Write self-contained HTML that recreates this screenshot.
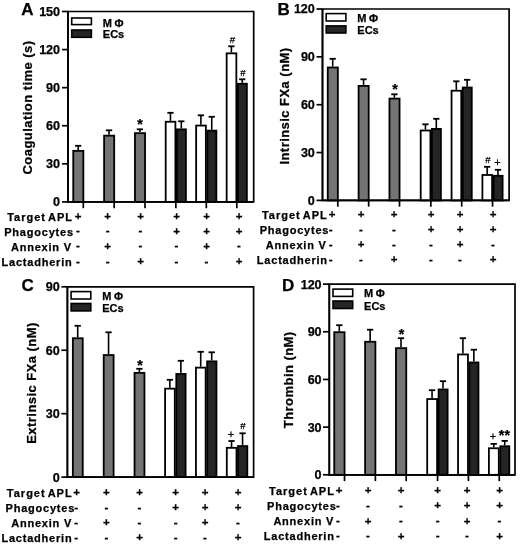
<!DOCTYPE html>
<html><head><meta charset="utf-8"><title>Figure</title>
<style>
html,body{margin:0;padding:0;background:#fff}
svg{display:block;filter:blur(.4px)}
text{font-family:"Liberation Sans", sans-serif;font-weight:bold;fill:#000;stroke:#000;stroke-width:.25px}
.tk{font-size:12.6px;text-anchor:end;letter-spacing:-.1px}
.an{font-size:9.6px;text-anchor:middle;font-weight:normal}
.ap{font-size:11px;text-anchor:middle;font-weight:normal}
.st{font-size:14.3px;text-anchor:middle}
.lg{font-size:11px}
.pl{font-size:17px}
.yl{font-size:13px;letter-spacing:.45px;text-anchor:middle}
.rl{font-size:11px;letter-spacing:.78px;text-anchor:end}
.r1{letter-spacing:1px;word-spacing:-1.6px}
.sy{font-size:11.5px;text-anchor:middle}
</style></head>
<body>
<svg width="520" height="545" viewBox="0 0 520 545">
<rect width="520" height="545" fill="#fff"/>
<path d="M68 11.5H253.7V201.9H68Z" fill="none" stroke="#000" stroke-width="1.7"/>
<path d="M62 201.90H68" stroke="#000" stroke-width="1.7"/>
<text x="59.90" y="206.30" class="tk">0</text>
<path d="M62 163.82H68" stroke="#000" stroke-width="1.7"/>
<text x="59.90" y="168.22" class="tk">30</text>
<path d="M62 125.74H68" stroke="#000" stroke-width="1.7"/>
<text x="59.90" y="130.14" class="tk">60</text>
<path d="M62 87.66H68" stroke="#000" stroke-width="1.7"/>
<text x="59.90" y="92.06" class="tk">90</text>
<path d="M62 49.58H68" stroke="#000" stroke-width="1.7"/>
<text x="59.90" y="53.98" class="tk">120</text>
<path d="M62 11.50H68" stroke="#000" stroke-width="1.7"/>
<text x="59.90" y="15.90" class="tk">150</text>
<path d="M78.20 150.00V145.80" stroke="#000" stroke-width="1.6" fill="none"/>
<path d="M75.05 145.80H81.35" stroke="#000" stroke-width="1.8" fill="none"/>
<rect x="73.25" y="150.85" width="10.10" height="51.05" fill="#747474" stroke="#000" stroke-width="1.8"/>
<path d="M109.05 134.80V130.30" stroke="#000" stroke-width="1.6" fill="none"/>
<path d="M105.90 130.30H112.20" stroke="#000" stroke-width="1.8" fill="none"/>
<rect x="104.10" y="135.65" width="10.10" height="66.25" fill="#747474" stroke="#000" stroke-width="1.8"/>
<path d="M139.90 132.30V129.30" stroke="#000" stroke-width="1.6" fill="none"/>
<path d="M136.75 129.30H143.05" stroke="#000" stroke-width="1.8" fill="none"/>
<rect x="134.95" y="133.15" width="10.10" height="68.75" fill="#747474" stroke="#000" stroke-width="1.8"/>
<path d="M170.45 120.90V112.80" stroke="#000" stroke-width="1.6" fill="none"/>
<path d="M167.30 112.80H173.60" stroke="#000" stroke-width="1.8" fill="none"/>
<rect x="165.70" y="121.75" width="9.70" height="80.15" fill="#fff" stroke="#000" stroke-width="1.8"/>
<path d="M181.30 128.50V121.30" stroke="#000" stroke-width="1.6" fill="none"/>
<path d="M178.15 121.30H184.45" stroke="#000" stroke-width="1.8" fill="none"/>
<rect x="176.90" y="129.35" width="9.00" height="72.55" fill="#252525" stroke="#000" stroke-width="1.8"/>
<path d="M200.90 124.70V115.30" stroke="#000" stroke-width="1.6" fill="none"/>
<path d="M197.75 115.30H204.05" stroke="#000" stroke-width="1.8" fill="none"/>
<rect x="196.15" y="125.55" width="9.70" height="76.35" fill="#fff" stroke="#000" stroke-width="1.8"/>
<path d="M211.75 129.80V116.80" stroke="#000" stroke-width="1.6" fill="none"/>
<path d="M208.60 116.80H214.90" stroke="#000" stroke-width="1.8" fill="none"/>
<rect x="207.35" y="130.65" width="9.00" height="71.25" fill="#252525" stroke="#000" stroke-width="1.8"/>
<path d="M231.40 52.50V46.30" stroke="#000" stroke-width="1.6" fill="none"/>
<path d="M228.25 46.30H234.55" stroke="#000" stroke-width="1.8" fill="none"/>
<rect x="226.65" y="53.35" width="9.70" height="148.55" fill="#fff" stroke="#000" stroke-width="1.8"/>
<path d="M242.25 82.90V79.30" stroke="#000" stroke-width="1.6" fill="none"/>
<path d="M239.10 79.30H245.40" stroke="#000" stroke-width="1.8" fill="none"/>
<rect x="237.85" y="83.75" width="9.00" height="118.15" fill="#252525" stroke="#000" stroke-width="1.8"/>
<path d="M83.30 201.9V208.20000000000002" stroke="#000" stroke-width="1.7"/>
<path d="M114.15 201.9V208.20000000000002" stroke="#000" stroke-width="1.7"/>
<path d="M145.00 201.9V208.20000000000002" stroke="#000" stroke-width="1.7"/>
<path d="M175.85 201.9V208.20000000000002" stroke="#000" stroke-width="1.7"/>
<path d="M206.30 201.9V208.20000000000002" stroke="#000" stroke-width="1.7"/>
<path d="M236.80 201.9V208.20000000000002" stroke="#000" stroke-width="1.7"/>
<path d="M68 11.5V201.9H253.7" fill="none" stroke="#000" stroke-width="1.7"/>
<text x="140" y="129.35" class="st">*</text>
<text x="232.3" y="42.5" class="an">#</text>
<text x="243" y="76" class="an">#</text>
<rect x="71.70" y="18.00" width="19.70" height="6.60" fill="#fff" stroke="#000" stroke-width="1.6"/>
<rect x="71.70" y="30.00" width="19.70" height="7.30" fill="#252525" stroke="#000" stroke-width="1.6"/>
<text x="102.80" y="26.50" class="lg">M<tspan dx="2.6">&#934;</tspan></text>
<text x="102.80" y="38.10" class="lg">ECs</text>
<text x="21.3" y="15.0" class="pl">A</text>
<text transform="translate(31.5 107.5) rotate(-90)" class="yl">Coagulation time (s)</text>
<text x="73.00" y="220.70" class="rl r1">Target APL</text>
<text x="78.00" y="219.60" class="sy">+</text>
<text x="107.70" y="219.60" class="sy">+</text>
<text x="140.50" y="219.60" class="sy">+</text>
<text x="176.50" y="219.60" class="sy">+</text>
<text x="206.50" y="219.60" class="sy">+</text>
<text x="239.00" y="219.60" class="sy">+</text>
<text x="73.80" y="235.90" class="rl">Phagocytes</text>
<text x="78.00" y="234.20" class="sy">-</text>
<text x="107.70" y="234.20" class="sy">-</text>
<text x="140.50" y="234.20" class="sy">-</text>
<text x="176.50" y="234.80" class="sy">+</text>
<text x="206.50" y="234.80" class="sy">+</text>
<text x="239.00" y="234.80" class="sy">+</text>
<text x="71.80" y="250.60" class="rl">Annexin V</text>
<text x="78.00" y="249.40" class="sy">-</text>
<text x="107.70" y="250.00" class="sy">+</text>
<text x="140.50" y="249.40" class="sy">-</text>
<text x="176.50" y="249.40" class="sy">-</text>
<text x="206.50" y="250.00" class="sy">+</text>
<text x="239.00" y="249.40" class="sy">-</text>
<text x="72.50" y="265.70" class="rl">Lactadherin</text>
<text x="78.00" y="264.50" class="sy">-</text>
<text x="107.70" y="264.50" class="sy">-</text>
<text x="140.50" y="265.10" class="sy">+</text>
<text x="176.50" y="264.50" class="sy">-</text>
<text x="206.50" y="264.50" class="sy">-</text>
<text x="239.00" y="265.10" class="sy">+</text>
<path d="M322.5 9H509.1V200.4H322.5Z" fill="none" stroke="#000" stroke-width="1.7"/>
<path d="M316.5 200.40H322.5" stroke="#000" stroke-width="1.7"/>
<text x="314.70" y="204.80" class="tk">0</text>
<path d="M316.5 152.55H322.5" stroke="#000" stroke-width="1.7"/>
<text x="314.70" y="156.95" class="tk">30</text>
<path d="M316.5 104.70H322.5" stroke="#000" stroke-width="1.7"/>
<text x="314.70" y="109.10" class="tk">60</text>
<path d="M316.5 56.85H322.5" stroke="#000" stroke-width="1.7"/>
<text x="314.70" y="61.25" class="tk">90</text>
<path d="M316.5 9.00H322.5" stroke="#000" stroke-width="1.7"/>
<text x="314.70" y="13.40" class="tk">120</text>
<path d="M332.70 66.65V58.80" stroke="#000" stroke-width="1.6" fill="none"/>
<path d="M329.55 58.80H335.85" stroke="#000" stroke-width="1.8" fill="none"/>
<rect x="327.75" y="67.50" width="10.10" height="132.90" fill="#747474" stroke="#000" stroke-width="1.8"/>
<path d="M363.55 85.05V79.30" stroke="#000" stroke-width="1.6" fill="none"/>
<path d="M360.40 79.30H366.70" stroke="#000" stroke-width="1.8" fill="none"/>
<rect x="358.60" y="85.90" width="10.10" height="114.50" fill="#747474" stroke="#000" stroke-width="1.8"/>
<path d="M394.40 97.75V94.30" stroke="#000" stroke-width="1.6" fill="none"/>
<path d="M391.25 94.30H397.55" stroke="#000" stroke-width="1.8" fill="none"/>
<rect x="389.45" y="98.60" width="10.10" height="101.80" fill="#747474" stroke="#000" stroke-width="1.8"/>
<path d="M425.45 129.65V124.30" stroke="#000" stroke-width="1.6" fill="none"/>
<path d="M422.30 124.30H428.60" stroke="#000" stroke-width="1.8" fill="none"/>
<rect x="420.70" y="130.50" width="9.70" height="69.90" fill="#fff" stroke="#000" stroke-width="1.8"/>
<path d="M436.30 128.05V118.80" stroke="#000" stroke-width="1.6" fill="none"/>
<path d="M433.15 118.80H439.45" stroke="#000" stroke-width="1.8" fill="none"/>
<rect x="431.90" y="128.90" width="9.00" height="71.50" fill="#252525" stroke="#000" stroke-width="1.8"/>
<path d="M456.30 89.85V81.30" stroke="#000" stroke-width="1.6" fill="none"/>
<path d="M453.15 81.30H459.45" stroke="#000" stroke-width="1.8" fill="none"/>
<rect x="451.55" y="90.70" width="9.70" height="109.70" fill="#fff" stroke="#000" stroke-width="1.8"/>
<path d="M467.15 86.65V79.80" stroke="#000" stroke-width="1.6" fill="none"/>
<path d="M464.00 79.80H470.30" stroke="#000" stroke-width="1.8" fill="none"/>
<rect x="462.75" y="87.50" width="9.00" height="112.90" fill="#252525" stroke="#000" stroke-width="1.8"/>
<path d="M487.15 174.15V166.80" stroke="#000" stroke-width="1.6" fill="none"/>
<path d="M484.00 166.80H490.30" stroke="#000" stroke-width="1.8" fill="none"/>
<rect x="482.40" y="175.00" width="9.70" height="25.40" fill="#fff" stroke="#000" stroke-width="1.8"/>
<path d="M498.00 174.95V169.80" stroke="#000" stroke-width="1.6" fill="none"/>
<path d="M494.85 169.80H501.15" stroke="#000" stroke-width="1.8" fill="none"/>
<rect x="493.60" y="175.80" width="9.00" height="24.60" fill="#252525" stroke="#000" stroke-width="1.8"/>
<path d="M337.80 200.4V206.70000000000002" stroke="#000" stroke-width="1.7"/>
<path d="M368.65 200.4V206.70000000000002" stroke="#000" stroke-width="1.7"/>
<path d="M399.50 200.4V206.70000000000002" stroke="#000" stroke-width="1.7"/>
<path d="M430.85 200.4V206.70000000000002" stroke="#000" stroke-width="1.7"/>
<path d="M461.70 200.4V206.70000000000002" stroke="#000" stroke-width="1.7"/>
<path d="M492.55 200.4V206.70000000000002" stroke="#000" stroke-width="1.7"/>
<path d="M322.5 9V200.4H509.1" fill="none" stroke="#000" stroke-width="1.7"/>
<text x="395" y="93.65" class="st">*</text>
<text x="487.8" y="162.5" class="an">#</text>
<text x="497.5" y="165.9" class="ap">+</text>
<rect x="326.20" y="13.60" width="19.70" height="7.40" fill="#fff" stroke="#000" stroke-width="1.6"/>
<rect x="326.20" y="25.90" width="19.70" height="7.10" fill="#252525" stroke="#000" stroke-width="1.6"/>
<text x="357.30" y="22.20" class="lg">M<tspan dx="2.6">&#934;</tspan></text>
<text x="357.30" y="34.30" class="lg">ECs</text>
<text x="277.5" y="15.3" class="pl">B</text>
<text transform="translate(288.8 106) rotate(-90)" class="yl">Intrinsic FXa (nM)</text>
<text x="327.80" y="218.50" class="rl r1">Target APL</text>
<text x="332.00" y="217.90" class="sy">+</text>
<text x="361.00" y="217.90" class="sy">+</text>
<text x="394.00" y="217.90" class="sy">+</text>
<text x="431.00" y="217.90" class="sy">+</text>
<text x="460.00" y="217.90" class="sy">+</text>
<text x="493.00" y="217.90" class="sy">+</text>
<text x="329.20" y="233.70" class="rl">Phagocytes</text>
<text x="330.70" y="232.50" class="sy">-</text>
<text x="361.00" y="232.50" class="sy">-</text>
<text x="394.00" y="232.50" class="sy">-</text>
<text x="431.00" y="233.10" class="sy">+</text>
<text x="460.00" y="233.10" class="sy">+</text>
<text x="493.00" y="233.10" class="sy">+</text>
<text x="326.60" y="248.80" class="rl">Annexin V</text>
<text x="330.70" y="247.60" class="sy">-</text>
<text x="361.00" y="248.20" class="sy">+</text>
<text x="394.00" y="247.60" class="sy">-</text>
<text x="431.00" y="247.60" class="sy">-</text>
<text x="460.00" y="248.20" class="sy">+</text>
<text x="493.00" y="247.60" class="sy">-</text>
<text x="327.80" y="264.00" class="rl">Lactadherin</text>
<text x="330.70" y="262.80" class="sy">-</text>
<text x="361.00" y="262.80" class="sy">-</text>
<text x="394.00" y="263.40" class="sy">+</text>
<text x="431.00" y="262.80" class="sy">-</text>
<text x="460.00" y="262.80" class="sy">-</text>
<text x="493.00" y="263.40" class="sy">+</text>
<path d="M67.4 286.8H253.6V477.1H67.4Z" fill="none" stroke="#000" stroke-width="1.7"/>
<path d="M61.400000000000006 477.10H67.4" stroke="#000" stroke-width="1.7"/>
<text x="59.60" y="481.50" class="tk">0</text>
<path d="M61.400000000000006 413.67H67.4" stroke="#000" stroke-width="1.7"/>
<text x="59.60" y="418.07" class="tk">30</text>
<path d="M61.400000000000006 350.23H67.4" stroke="#000" stroke-width="1.7"/>
<text x="59.60" y="354.63" class="tk">60</text>
<path d="M61.400000000000006 286.80H67.4" stroke="#000" stroke-width="1.7"/>
<text x="59.60" y="291.20" class="tk">90</text>
<path d="M77.70 337.40V325.80" stroke="#000" stroke-width="1.6" fill="none"/>
<path d="M74.55 325.80H80.85" stroke="#000" stroke-width="1.8" fill="none"/>
<rect x="72.85" y="338.25" width="9.90" height="138.85" fill="#747474" stroke="#000" stroke-width="1.8"/>
<path d="M108.55 354.20V332.30" stroke="#000" stroke-width="1.6" fill="none"/>
<path d="M105.40 332.30H111.70" stroke="#000" stroke-width="1.8" fill="none"/>
<rect x="103.70" y="355.05" width="9.90" height="122.05" fill="#747474" stroke="#000" stroke-width="1.8"/>
<path d="M139.40 372.00V368.80" stroke="#000" stroke-width="1.6" fill="none"/>
<path d="M136.25 368.80H142.55" stroke="#000" stroke-width="1.8" fill="none"/>
<rect x="134.55" y="372.85" width="9.90" height="104.25" fill="#747474" stroke="#000" stroke-width="1.8"/>
<path d="M169.85 387.80V379.80" stroke="#000" stroke-width="1.6" fill="none"/>
<path d="M166.70 379.80H173.00" stroke="#000" stroke-width="1.8" fill="none"/>
<rect x="165.10" y="388.65" width="9.70" height="88.45" fill="#fff" stroke="#000" stroke-width="1.8"/>
<path d="M180.85 373.10V360.80" stroke="#000" stroke-width="1.6" fill="none"/>
<path d="M177.70 360.80H184.00" stroke="#000" stroke-width="1.8" fill="none"/>
<rect x="176.30" y="373.95" width="9.30" height="103.15" fill="#252525" stroke="#000" stroke-width="1.8"/>
<path d="M200.70 366.80V351.80" stroke="#000" stroke-width="1.6" fill="none"/>
<path d="M197.55 351.80H203.85" stroke="#000" stroke-width="1.8" fill="none"/>
<rect x="195.95" y="367.65" width="9.70" height="109.45" fill="#fff" stroke="#000" stroke-width="1.8"/>
<path d="M211.70 360.50V352.30" stroke="#000" stroke-width="1.6" fill="none"/>
<path d="M208.55 352.30H214.85" stroke="#000" stroke-width="1.8" fill="none"/>
<rect x="207.15" y="361.35" width="9.30" height="115.75" fill="#252525" stroke="#000" stroke-width="1.8"/>
<path d="M231.55 447.00V441.00" stroke="#000" stroke-width="1.6" fill="none"/>
<path d="M228.40 441.00H234.70" stroke="#000" stroke-width="1.8" fill="none"/>
<rect x="226.80" y="447.85" width="9.70" height="29.25" fill="#fff" stroke="#000" stroke-width="1.8"/>
<path d="M242.55 445.20V433.30" stroke="#000" stroke-width="1.6" fill="none"/>
<path d="M239.40 433.30H245.70" stroke="#000" stroke-width="1.8" fill="none"/>
<rect x="238.00" y="446.05" width="9.30" height="31.05" fill="#252525" stroke="#000" stroke-width="1.8"/>
<path d="M67.4 286.8V477.1H253.6" fill="none" stroke="#000" stroke-width="1.7"/>
<text x="140" y="369.55" class="st">*</text>
<text x="231" y="438.0" class="ap">+</text>
<text x="243" y="429" class="an">#</text>
<rect x="71.10" y="291.60" width="19.70" height="7.40" fill="#fff" stroke="#000" stroke-width="1.6"/>
<rect x="71.10" y="303.50" width="19.70" height="7.40" fill="#252525" stroke="#000" stroke-width="1.6"/>
<text x="102.20" y="300.00" class="lg">M<tspan dx="2.6">&#934;</tspan></text>
<text x="102.20" y="312.10" class="lg">ECs</text>
<text x="21.5" y="290.8" class="pl">C</text>
<text transform="translate(36.2 383) rotate(-90)" class="yl">Extrinsic FXa (nM)</text>
<text x="72.70" y="496.80" class="rl r1">Target APL</text>
<text x="76.70" y="496.00" class="sy">+</text>
<text x="106.30" y="496.00" class="sy">+</text>
<text x="139.50" y="496.00" class="sy">+</text>
<text x="175.70" y="496.00" class="sy">+</text>
<text x="205.00" y="496.00" class="sy">+</text>
<text x="238.00" y="496.00" class="sy">+</text>
<text x="75.10" y="512.00" class="rl">Phagocytes</text>
<text x="76.10" y="510.60" class="sy">-</text>
<text x="106.30" y="510.60" class="sy">-</text>
<text x="139.50" y="510.60" class="sy">-</text>
<text x="175.70" y="511.20" class="sy">+</text>
<text x="205.00" y="511.20" class="sy">+</text>
<text x="238.00" y="511.20" class="sy">+</text>
<text x="72.00" y="526.80" class="rl">Annexin V</text>
<text x="76.10" y="525.60" class="sy">-</text>
<text x="106.30" y="526.20" class="sy">+</text>
<text x="139.50" y="525.60" class="sy">-</text>
<text x="175.70" y="525.60" class="sy">-</text>
<text x="205.00" y="526.20" class="sy">+</text>
<text x="238.00" y="525.60" class="sy">-</text>
<text x="72.40" y="541.60" class="rl">Lactadherin</text>
<text x="76.10" y="540.70" class="sy">-</text>
<text x="106.30" y="540.70" class="sy">-</text>
<text x="139.50" y="541.30" class="sy">+</text>
<text x="175.70" y="540.70" class="sy">-</text>
<text x="205.00" y="540.70" class="sy">-</text>
<text x="238.00" y="541.30" class="sy">+</text>
<path d="M329.3 284.1H515.0V474.8H329.3Z" fill="none" stroke="#000" stroke-width="1.7"/>
<path d="M323.0 474.80H329.3" stroke="#000" stroke-width="1.7"/>
<text x="321.50" y="479.20" class="tk">0</text>
<path d="M323.0 427.12H329.3" stroke="#000" stroke-width="1.7"/>
<text x="321.50" y="431.52" class="tk">30</text>
<path d="M323.0 379.45H329.3" stroke="#000" stroke-width="1.7"/>
<text x="321.50" y="383.85" class="tk">60</text>
<path d="M323.0 331.78H329.3" stroke="#000" stroke-width="1.7"/>
<text x="321.50" y="336.18" class="tk">90</text>
<path d="M323.0 284.10H329.3" stroke="#000" stroke-width="1.7"/>
<text x="321.50" y="288.50" class="tk">120</text>
<path d="M339.30 331.35V325.20" stroke="#000" stroke-width="1.6" fill="none"/>
<path d="M336.15 325.20H342.45" stroke="#000" stroke-width="1.8" fill="none"/>
<rect x="334.25" y="332.20" width="10.30" height="142.60" fill="#747474" stroke="#000" stroke-width="1.8"/>
<path d="M370.15 340.90V329.70" stroke="#000" stroke-width="1.6" fill="none"/>
<path d="M367.00 329.70H373.30" stroke="#000" stroke-width="1.8" fill="none"/>
<rect x="365.10" y="341.75" width="10.30" height="133.05" fill="#747474" stroke="#000" stroke-width="1.8"/>
<path d="M401.00 347.30V338.20" stroke="#000" stroke-width="1.6" fill="none"/>
<path d="M397.85 338.20H404.15" stroke="#000" stroke-width="1.8" fill="none"/>
<rect x="395.95" y="348.15" width="10.30" height="126.65" fill="#747474" stroke="#000" stroke-width="1.8"/>
<path d="M432.05 398.20V390.20" stroke="#000" stroke-width="1.6" fill="none"/>
<path d="M428.90 390.20H435.20" stroke="#000" stroke-width="1.8" fill="none"/>
<rect x="427.20" y="399.05" width="9.90" height="75.75" fill="#fff" stroke="#000" stroke-width="1.8"/>
<path d="M443.00 388.60V381.20" stroke="#000" stroke-width="1.6" fill="none"/>
<path d="M439.85 381.20H446.15" stroke="#000" stroke-width="1.8" fill="none"/>
<rect x="438.60" y="389.45" width="9.00" height="85.35" fill="#252525" stroke="#000" stroke-width="1.8"/>
<path d="M462.90 353.60V338.20" stroke="#000" stroke-width="1.6" fill="none"/>
<path d="M459.75 338.20H466.05" stroke="#000" stroke-width="1.8" fill="none"/>
<rect x="458.05" y="354.45" width="9.90" height="120.35" fill="#fff" stroke="#000" stroke-width="1.8"/>
<path d="M473.85 361.60V349.70" stroke="#000" stroke-width="1.6" fill="none"/>
<path d="M470.70 349.70H477.00" stroke="#000" stroke-width="1.8" fill="none"/>
<rect x="469.45" y="362.45" width="9.00" height="112.35" fill="#252525" stroke="#000" stroke-width="1.8"/>
<path d="M493.75 447.40V443.90" stroke="#000" stroke-width="1.6" fill="none"/>
<path d="M490.60 443.90H496.90" stroke="#000" stroke-width="1.8" fill="none"/>
<rect x="488.90" y="448.25" width="9.90" height="26.55" fill="#fff" stroke="#000" stroke-width="1.8"/>
<path d="M504.70 445.40V440.90" stroke="#000" stroke-width="1.6" fill="none"/>
<path d="M501.55 440.90H507.85" stroke="#000" stroke-width="1.8" fill="none"/>
<rect x="500.30" y="446.25" width="9.00" height="28.55" fill="#252525" stroke="#000" stroke-width="1.8"/>
<path d="M344.50 474.8V481.1" stroke="#000" stroke-width="1.7"/>
<path d="M375.35 474.8V481.1" stroke="#000" stroke-width="1.7"/>
<path d="M406.20 474.8V481.1" stroke="#000" stroke-width="1.7"/>
<path d="M437.55 474.8V481.1" stroke="#000" stroke-width="1.7"/>
<path d="M468.40 474.8V481.1" stroke="#000" stroke-width="1.7"/>
<path d="M499.25 474.8V481.1" stroke="#000" stroke-width="1.7"/>
<path d="M329.3 284.1V474.8H515.0" fill="none" stroke="#000" stroke-width="1.7"/>
<text x="401.6" y="338.7" class="st">*</text>
<text x="493" y="440.0" class="ap">+</text>
<text x="504.4" y="439.6" class="st">**</text>
<rect x="333.00" y="289.10" width="19.70" height="7.30" fill="#fff" stroke="#000" stroke-width="1.6"/>
<rect x="333.00" y="301.00" width="19.70" height="7.50" fill="#252525" stroke="#000" stroke-width="1.6"/>
<text x="364.10" y="297.40" class="lg">M<tspan dx="2.6">&#934;</tspan></text>
<text x="364.10" y="309.50" class="lg">ECs</text>
<text x="282.1" y="291.0" class="pl">D</text>
<text transform="translate(293.3 379.8) rotate(-90)" class="yl">Thrombin (nM)</text>
<text x="334.90" y="494.50" class="rl r1">Target APL</text>
<text x="339.00" y="493.90" class="sy">+</text>
<text x="368.00" y="493.90" class="sy">+</text>
<text x="401.00" y="493.90" class="sy">+</text>
<text x="437.70" y="493.90" class="sy">+</text>
<text x="467.00" y="493.90" class="sy">+</text>
<text x="499.50" y="493.90" class="sy">+</text>
<text x="336.60" y="510.20" class="rl">Phagocytes</text>
<text x="338.00" y="508.70" class="sy">-</text>
<text x="368.00" y="508.70" class="sy">-</text>
<text x="401.00" y="508.70" class="sy">-</text>
<text x="437.70" y="509.30" class="sy">+</text>
<text x="467.00" y="509.30" class="sy">+</text>
<text x="499.50" y="509.30" class="sy">+</text>
<text x="334.20" y="524.90" class="rl">Annexin V</text>
<text x="338.00" y="523.90" class="sy">-</text>
<text x="368.00" y="524.50" class="sy">+</text>
<text x="401.00" y="523.90" class="sy">-</text>
<text x="437.70" y="523.90" class="sy">-</text>
<text x="467.00" y="524.50" class="sy">+</text>
<text x="499.50" y="523.90" class="sy">-</text>
<text x="334.70" y="539.70" class="rl">Lactadherin</text>
<text x="338.00" y="539.00" class="sy">-</text>
<text x="368.00" y="539.00" class="sy">-</text>
<text x="401.00" y="539.60" class="sy">+</text>
<text x="437.70" y="539.00" class="sy">-</text>
<text x="467.00" y="539.00" class="sy">-</text>
<text x="499.50" y="539.60" class="sy">+</text>
</svg>
</body></html>
